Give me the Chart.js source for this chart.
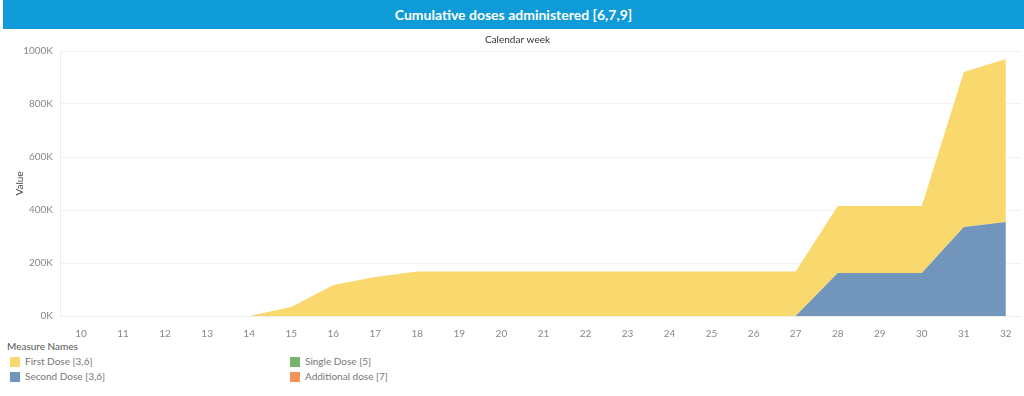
<!DOCTYPE html>
<html><head><meta charset="utf-8">
<script src="https://cdn.jsdelivr.net/npm/chart.js@4"></script>
<style>
html,body{margin:0;padding:0;background:#fff;width:1024px;height:396px;overflow:hidden;font-family:Lato,"Open Sans",sans-serif;}
#hdr{position:absolute;left:3px;top:0;width:1021px;height:29px;background:#0f9bd7;color:#fff;font-weight:bold;font-size:14px;line-height:29px;text-align:center;}
#wrap{position:absolute;left:0;top:30px;width:1024px;height:310px;}
.li{position:absolute;white-space:nowrap;font-size:10px;color:#777;}
.sw{position:absolute;width:10px;height:10px;}
</style></head><body>
<div id="hdr">Cumulative doses administered [6,7,9]</div>
<div id="wrap"><canvas id="c"></canvas></div>
<div id="leg"></div>
<script>
const weeks = [10,11,12,13,14,15,16,17,18,19,20,21,22,23,24,25,26,27,28,29,30,31,32];
// cumulative doses (values, not stacked)
const firstDose  = [null,null,null,null,0,34000,117000,147000,168000,168000,168000,168000,168000,168000,168000,168000,168000,168000,253000,253000,253000,585000,615000];
const secondDose = [null,null,null,null,0,0,0,0,0,0,0,0,0,0,0,0,0,0,162000,162000,162000,336000,355000];
const legendNames = ["First Dose [3,6]","Second Dose [3,6]","Single Dose [5]","Additional dose [7]"];
const legendColors = ["#f9d96e","#7296bb","#79b46f","#f4925a"];
const yTicks = [0,200000,400000,600000,800000,1000000];

// HTML legend
const leg = document.getElementById('leg');
let h = '<div class="li" style="left:7px;top:340px;color:#555">Measure Names</div>';
const pos = [[10,357],[10,372],[290,357],[290,372]];
legendNames.forEach((n,i)=>{
  h += `<div class="sw" style="left:${pos[i][0]}px;top:${pos[i][1]}px;background:${legendColors[i]}"></div>`;
  h += `<div class="li" style="left:${pos[i][0]+15}px;top:${pos[i][1]-2}px">${n}</div>`;
});
leg.innerHTML = h;

const mk = (arr)=>weeks.map((w,i)=>({x:w,y:arr[i]}));
new Chart(document.getElementById('c'),{
  type:'line',
  data:{datasets:[
    {label:'Second Dose [3,6]',data:mk(secondDose),backgroundColor:'rgba(114,150,187,1)',borderColor:'rgba(114,150,187,1)',borderWidth:0,pointRadius:0,fill:'origin',tension:0},
    {label:'First Dose [3,6]',data:mk(firstDose),backgroundColor:'rgba(249,217,110,1)',borderColor:'rgba(249,217,110,1)',borderWidth:0,pointRadius:0,fill:'-1',tension:0}
  ]},
  options:{
    responsive:true,maintainAspectRatio:false,animation:false,
    layout:{padding:{left:14,right:3,top:0,bottom:0}},
    plugins:{legend:{display:false},tooltip:{enabled:false},
      title:{display:true,text:'Calendar week',color:'#333',font:{family:'Lato',size:10,weight:'normal'},padding:{top:4,bottom:5}}},
    scales:{
      x:{type:'linear',min:9.5,max:32.36,
        afterBuildTicks:s=>{s.ticks=weeks.map(v=>({value:v}));},
        afterFit:s=>{s.height=24;},
        grid:{display:false},border:{display:true,color:'#eee'},
        ticks:{color:'#888',font:{family:'Lato',size:10},padding:4,maxRotation:0,autoSkip:false}},
      y:{stacked:true,min:0,max:1000000,
        afterBuildTicks:s=>{s.ticks=yTicks.map(v=>({value:v}));},
        afterFit:s=>{s.width=46;},
        grid:{color:'#f1f1f1',drawTicks:false},border:{display:true,color:'#eee'},
        title:{display:true,text:'Value',color:'#444',font:{family:'Lato',size:10},padding:{top:0,bottom:8}},
        ticks:{color:'#888',font:{family:'Lato',size:10},padding:7,callback:v=>(v/1000)+'K'}}
    }
  }
});
</script>
</body></html>
